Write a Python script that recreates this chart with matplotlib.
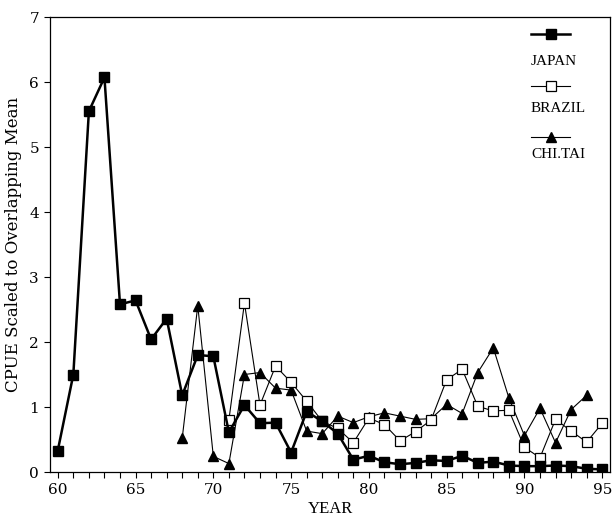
import matplotlib

matplotlib.use("Agg")
import matplotlib.pyplot as plt
from matplotlib.lines import Line2D
from matplotlib.ticker import MultipleLocator

# CPUE values
japan_years = list(range(60, 96))
japan_cpue = [0.33, 1.50, 5.55, 6.07, 2.58, 2.64, 2.04, 2.36, 1.18, 1.80,
              1.78, 0.61, 1.03, 0.75, 0.76, 0.30, 0.93, 0.78, 0.59, 0.19,
              0.25, 0.15, 0.12, 0.14, 0.18, 0.17, 0.25, 0.14, 0.16, 0.10,
              0.09, 0.09, 0.10, 0.09, 0.05, 0.04]

brazil_years = list(range(71, 96))
brazil_cpue = [0.80, 2.60, 1.03, 1.63, 1.38, 1.09, 0.78, 0.67, 0.45, 0.83,
               0.73, 0.48, 0.62, 0.80, 1.42, 1.58, 1.01, 0.94, 0.95, 0.38,
               0.22, 0.81, 0.63, 0.46, 0.75]

chitai_years = list(range(68, 95))
chitai_cpue = [0.52, 2.56, 0.24, 0.13, 1.50, 1.53, 1.29, 1.26, 0.63, 0.59,
               0.86, 0.76, 0.85, 0.91, 0.86, 0.81, 0.82, 1.04, 0.90, 1.53,
               1.91, 1.14, 0.56, 0.98, 0.45, 0.96, 1.18]

SERIF = ["Liberation Serif", "DejaVu Serif"]
WIDE_SERIF = ["DejaVu Serif"]
plt.rcParams["font.family"] = SERIF

fig = plt.figure(figsize=(6.12, 5.2), dpi=100)
ax = fig.add_axes([0.0817, 0.0923, 0.915, 0.875])

japan_style = dict(color="black", linewidth=1.8, marker="s", markersize=7.5,
                   markerfacecolor="black", markeredgecolor="black")
brazil_style = dict(color="black", linewidth=0.8, marker="s", markersize=7.5,
                    markerfacecolor="white", markeredgecolor="black", markeredgewidth=0.9)
chitai_style = dict(color="black", linewidth=0.8, marker="^", markersize=7.5,
                    markerfacecolor="black", markeredgecolor="black")

ax.plot(chitai_years, chitai_cpue, zorder=2, **chitai_style)
ax.plot(brazil_years, brazil_cpue, zorder=3, **brazil_style)
ax.plot(japan_years, japan_cpue, zorder=4, **japan_style)

ax.set_xlim(59.5, 95.5)
ax.set_ylim(0, 7)
ax.xaxis.set_major_locator(MultipleLocator(5))
ax.xaxis.set_minor_locator(MultipleLocator(1))
ax.yaxis.set_major_locator(MultipleLocator(1))
ax.tick_params(axis="both", which="major", direction="out", length=4, width=0.8,
               labelsize=11, pad=4)
ax.tick_params(axis="x", which="minor", direction="out", length=4, width=0.8)
for lbl in ax.get_xticklabels() + ax.get_yticklabels():
    lbl.set_family(WIDE_SERIF)
for side in ax.spines.values():
    side.set_linewidth(0.9)

ax.set_xlabel("YEAR", fontsize=12, labelpad=3)
ax.set_ylabel("CPUE Scaled to Overlapping Mean", fontsize=12, labelpad=5,
              family=WIDE_SERIF)

# legend: marker sample above each label, as in the original figure
entries = [("JAPAN", japan_style, 0.963, 0.903),
           ("BRAZIL", brazil_style, 0.848, 0.800),
           ("CHI.TAI", chitai_style, 0.736, 0.697)]
for name, style, y_line, y_text in entries:
    ax.add_line(Line2D([0.859, 0.894, 0.929], [y_line] * 3, transform=ax.transAxes,
                       markevery=[1], clip_on=False, **style))
    ax.text(0.859, y_text, name, transform=ax.transAxes, fontsize=11,
            va="center", ha="left")

fig.savefig("out.png", dpi=100)
